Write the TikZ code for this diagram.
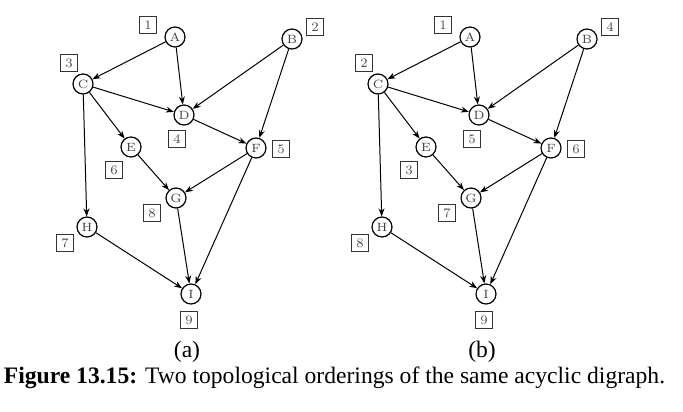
\documentclass[tikz,border=0pt]{standalone}
\usepackage{fontspec}
\newfontfamily\capfont{Liberation Serif}
\usetikzlibrary{arrows.meta}

\tikzset{
  vtx/.style={circle, draw, line width=0.6pt, minimum size=10pt, inner sep=0pt,
    text=black!75, font=\fontsize{6}{7}\selectfont},
  ord/.style={draw=black!80, line width=0.5pt, minimum size=8.2pt, inner sep=0pt,
    text=black!70, font=\fontsize{6.5}{7}\selectfont},
  dep/.style={-{Stealth[length=4pt,width=3pt]}, line width=0.5pt}
}

\begin{document}
\begin{tikzpicture}[x=0.5pt, y=-0.5pt]
\useasboundingbox (0,0) rectangle (683,411);
% (a)
\begin{scope}[name prefix=a]
  \node[vtx] (A) at (175,37) {A};
  \node[vtx] (B) at (292,39) {B};
  \node[vtx] (C) at (83,84) {C};
  \node[vtx] (D) at (184,115) {D};
  \node[vtx] (E) at (131,147) {E};
  \node[vtx] (F) at (256,148) {F};
  \node[vtx] (G) at (176,198) {G};
  \node[vtx] (H) at (87,227) {H};
  \node[vtx] (I) at (191,294) {I};
  \node[ord] (nA) at (148,25) {1};
  \node[ord] (nB) at (315,27) {2};
  \node[ord] (nC) at (69,63) {3};
  \node[ord] (nD) at (177,139) {4};
  \node[ord] (nF) at (281,149) {5};
  \node[ord] (nE) at (114,170) {6};
  \node[ord] (nH) at (65,243) {7};
  \node[ord] (nG) at (152,213) {8};
  \node[ord] (nI) at (189,320) {9};
  \draw[dep] (A) -- (C);
  \draw[dep] (A) -- (D);
  \draw[dep] (B) -- (D);
  \draw[dep] (B) -- (F);
  \draw[dep] (C) -- (D);
  \draw[dep] (C) -- (E);
  \draw[dep] (C) -- (H);
  \draw[dep] (D) -- (F);
  \draw[dep] (E) -- (G);
  \draw[dep] (F) -- (G);
  \draw[dep] (F) -- (I);
  \draw[dep] (G) -- (I);
  \draw[dep] (H) -- (I);
  \node[font=\capfont\fontsize{11.8}{14}\selectfont] (sub) at (187,352) {(a)};
\end{scope}
% (b)
\begin{scope}[xshift=147.5pt, name prefix=b]
  \node[vtx] (A) at (175,37) {A};
  \node[vtx] (B) at (292,39) {B};
  \node[vtx] (C) at (83,84) {C};
  \node[vtx] (D) at (184,115) {D};
  \node[vtx] (E) at (131,147) {E};
  \node[vtx] (F) at (256,148) {F};
  \node[vtx] (G) at (176,198) {G};
  \node[vtx] (H) at (87,227) {H};
  \node[vtx] (I) at (191,294) {I};
  \node[ord] (nA) at (148,25) {1};
  \node[ord] (nB) at (315,27) {4};
  \node[ord] (nC) at (69,63) {2};
  \node[ord] (nD) at (177,139) {5};
  \node[ord] (nF) at (281,149) {6};
  \node[ord] (nE) at (114,170) {3};
  \node[ord] (nH) at (65,243) {8};
  \node[ord] (nG) at (152,213) {7};
  \node[ord] (nI) at (189,320) {9};
  \draw[dep] (A) -- (C);
  \draw[dep] (A) -- (D);
  \draw[dep] (B) -- (D);
  \draw[dep] (B) -- (F);
  \draw[dep] (C) -- (D);
  \draw[dep] (C) -- (E);
  \draw[dep] (C) -- (H);
  \draw[dep] (D) -- (F);
  \draw[dep] (E) -- (G);
  \draw[dep] (F) -- (G);
  \draw[dep] (F) -- (I);
  \draw[dep] (G) -- (I);
  \draw[dep] (H) -- (I);
  \node[font=\capfont\fontsize{11.8}{14}\selectfont] (sub) at (187,352) {(b)};
\end{scope}
\node[font=\capfont\fontsize{11.8}{14}\selectfont] (cap) at (334.5,378)
  {\textbf{Figure 13.15:} Two topological orderings of the same acyclic digraph.};
\end{tikzpicture}
\end{document}
